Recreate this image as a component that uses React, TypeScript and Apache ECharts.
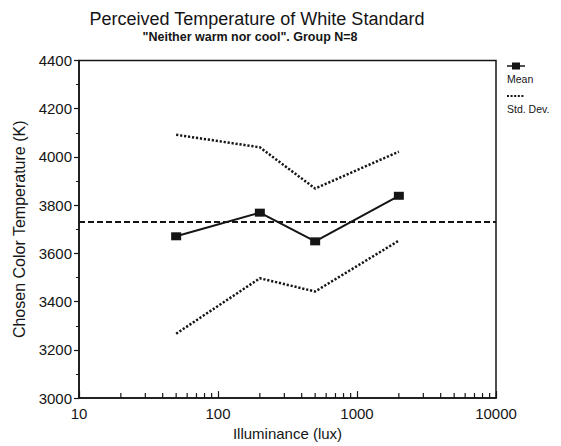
import React, { useEffect, useRef } from 'react';
import * as echarts from 'echarts';

const illuminance = [50, 200, 500, 2000];
const meanTemp = [3671, 3769, 3650, 3839];
const stdUpper = [4092, 4040, 3869, 4022];
const stdLower = [3267, 3497, 3442, 3653];
const overallMean = 3730;
const minorTickValues = [20, 30, 40, 50, 60, 70, 80, 90, 200, 300, 400, 500, 600, 700, 800, 900, 2000, 3000, 4000, 5000, 6000, 7000, 8000, 9000];
const titleText = 'Perceived Temperature of White Standard';
const subtitleText = '"Neither warm nor cool". Group N=8';
const xName = 'Illuminance (lux)';
const yName = 'Chosen Color Temperature (K)';
const legendNames = ['Mean', 'Std. Dev.'];

const FONT = '"Liberation Sans", Arial, sans-serif';
const INK = '#151515';

export default function App() {
  const ref = useRef<HTMLDivElement>(null);
  useEffect(() => {
    document.body.style.margin = '0';
    const chart = echarts.init(ref.current!, null, { renderer: 'svg' });
    const pairs = (ys: number[]) => illuminance.map((x, i) => [x, ys[i]]);
    chart.setOption({
      animation: false,
      backgroundColor: '#fff',
      textStyle: { fontFamily: FONT, color: INK },
      grid: {
        left: 79, right: 65, top: 60.5, bottom: 44.5,
        show: true, borderColor: INK, borderWidth: 1.5, backgroundColor: 'transparent'
      },
      xAxis: {
        type: 'log', logBase: 10, min: 10, max: 10000,
        name: xName, nameLocation: 'middle', nameGap: 27,
        nameTextStyle: { fontSize: 15, color: INK, fontFamily: FONT },
        axisLine: { lineStyle: { color: INK, width: 1.5 } },
        axisTick: { inside: true, length: 7, lineStyle: { color: INK, width: 1.2 } },
        axisLabel: { fontSize: 15, color: INK, margin: 8, fontFamily: FONT, formatter: (v: number) => String(Math.round(v)) },
        splitLine: { show: false },
        minorTick: { show: false }
      },
      yAxis: {
        type: 'value', min: 3000, max: 4400, interval: 200,
        name: yName, nameLocation: 'middle', nameGap: 50,
        nameTextStyle: { fontSize: 16, color: INK, fontFamily: FONT },
        axisLine: { show: true, lineStyle: { color: INK, width: 1.5 } },
        axisTick: { show: true, inside: false, length: 5, lineStyle: { color: INK, width: 1.2 } },
        minorTick: { show: true, splitNumber: 2, length: 3, lineStyle: { color: INK, width: 1 } },
        axisLabel: { fontSize: 15, color: INK, margin: 7, fontFamily: FONT, formatter: (v: number) => String(v) },
        splitLine: { show: false }
      },
      graphic: [
        { type: 'text', x: 257, y: 19, style: { text: titleText, font: `18px ${FONT}`, fill: INK, align: 'center', verticalAlign: 'middle' } },
        { type: 'text', x: 250, y: 37, style: { text: subtitleText, font: `bold 12.5px ${FONT}`, fill: INK, align: 'center', verticalAlign: 'middle' } },
        { type: 'line', shape: { x1: 507, y1: 66, x2: 525, y2: 66 }, style: { stroke: INK, lineWidth: 1.5 } },
        { type: 'rect', shape: { x: 512, y: 62.5, width: 8, height: 7 }, style: { fill: INK } },
        { type: 'text', x: 507, y: 79, style: { text: legendNames[0], font: `10.5px ${FONT}`, fill: INK, verticalAlign: 'middle' } },
        { type: 'line', shape: { x1: 507, y1: 96, x2: 525, y2: 96 }, style: { stroke: INK, lineWidth: 2, lineDash: [2, 1.6] } },
        { type: 'text', x: 507, y: 109, style: { text: legendNames[1], font: `10.5px ${FONT}`, fill: INK, verticalAlign: 'middle' } }
      ],
      series: [
        {
          name: 'Mean', type: 'line', data: pairs(meanTemp),
          lineStyle: { color: INK, width: 2 },
          symbol: 'rect', symbolSize: [10, 8],
          itemStyle: { color: INK },
          markLine: {
            silent: true, symbol: 'none', label: { show: false },
            lineStyle: { color: INK, width: 2, type: [6, 3] },
            data: [{ yAxis: overallMean }]
          },
          z: 3
        },
        {
          name: 'Std. Dev. upper', type: 'line', data: pairs(stdUpper),
          showSymbol: false, symbol: 'none',
          lineStyle: { color: INK, width: 2.5, type: [2.2, 1.8] }
        },
        {
          name: 'Std. Dev. lower', type: 'line', data: pairs(stdLower),
          showSymbol: false, symbol: 'none',
          lineStyle: { color: INK, width: 2.5, type: [2.2, 1.8] }
        },
        {
          name: 'minor ticks', type: 'custom', silent: true, clip: false,
          data: minorTickValues.map((v) => [v, 3000]),
          renderItem: (params: any, api: any) => {
            const p = api.coord([api.value(0), api.value(1)]);
            return {
              type: 'line',
              shape: { x1: p[0], y1: p[1], x2: p[0], y2: p[1] - 5 },
              style: { stroke: INK, lineWidth: 1.2 }
            };
          }
        }
      ]
    });
    return () => chart.dispose();
  }, []);
  return <div ref={ref} style={{ width: 561, height: 446, background: '#fff' }} />;
}
